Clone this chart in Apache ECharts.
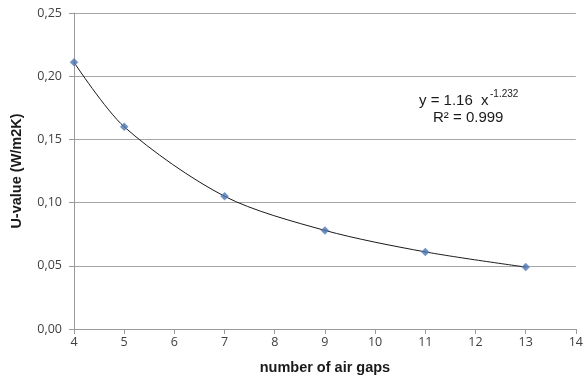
<!DOCTYPE html>
<html><head><meta charset="utf-8">
<script src="https://cdn.jsdelivr.net/npm/echarts@6/dist/echarts.min.js"></script>
<style>html,body{margin:0;padding:0;background:#fff}#c{width:586px;height:380px}</style>
</head><body><div id="c"></div>
<script>
var airGaps = [4, 5, 7, 9, 11, 13];
var uValues = [0.211, 0.160, 0.105, 0.078, 0.061, 0.049];
var xAxisName = 'number of air gaps';
var yAxisName = 'U-value (W/m2K)';
var equationLine1 = 'y = 1.16  x';
var equationExp = '-1.232';
var equationLine2 = 'R\u00b2 = 0.999';

var pts = airGaps.map(function (x, i) { return [x, uValues[i]]; });
var chart = echarts.init(document.getElementById('c'), null, {renderer: 'canvas'});
var labelFont = '"Open Sans", "Liberation Sans", sans-serif';
chart.setOption({
  animation: false,
  backgroundColor: '#fff',
  grid: {left: 74, right: 6, top: 13, bottom: 50},
  xAxis: {
    type: 'value', min: 4, max: 14, interval: 1,
    name: xAxisName, nameLocation: 'middle', nameGap: 31,
    nameTextStyle: {fontFamily: 'Liberation Sans, Arial', fontWeight: 'bold', fontSize: 14.5, color: '#1a1a1a'},
    axisLine: {show: true, lineStyle: {color: '#9a9a9a', width: 1}},
    axisTick: {show: true, length: 5, lineStyle: {color: '#9a9a9a'}},
    axisLabel: {fontFamily: labelFont, fontSize: 12.5, color: '#404040', margin: 7},
    splitLine: {show: false}
  },
  yAxis: {
    type: 'value', min: 0, max: 0.25, interval: 0.05,
    name: yAxisName, nameLocation: 'middle', nameGap: 50, nameRotate: 90,
    nameTextStyle: {fontFamily: 'Liberation Sans, Arial', fontWeight: 'bold', fontSize: 14.5, color: '#1a1a1a'},
    axisLine: {show: true, lineStyle: {color: '#9a9a9a', width: 1}},
    axisTick: {show: true, length: 5, lineStyle: {color: '#9a9a9a'}},
    axisLabel: {fontFamily: labelFont, fontSize: 12.5, color: '#404040', margin: 12,
      formatter: function (v) { return v.toFixed(2).replace('.', ','); }},
    splitLine: {show: true, lineStyle: {color: '#a6a6a6', width: 1}}
  },
  series: [
    {
      type: 'line', data: pts, smooth: 0.3,
      showSymbol: false, symbol: 'none',
      lineStyle: {color: '#1a1a1a', width: 1}, z: 2
    },
    {
      type: 'scatter', data: pts, symbol: 'diamond', symbolSize: 8,
      itemStyle: {color: '#4a74b0', borderColor: '#6f8fc4', borderWidth: 0.5}, z: 3
    }
  ],
  graphic: [
    {type: 'text', left: 419, top: 93, style: {text: equationLine1, font: '15px "Liberation Sans", Arial', fill: '#1a1a1a'}},
    {type: 'text', left: 490, top: 89, style: {text: equationExp, font: '10px "Liberation Sans", Arial', fill: '#1a1a1a'}},
    {type: 'text', left: 433, top: 110, style: {text: equationLine2, font: '15px "Liberation Sans", Arial', fill: '#1a1a1a'}}
  ]
});
</script></body></html>
